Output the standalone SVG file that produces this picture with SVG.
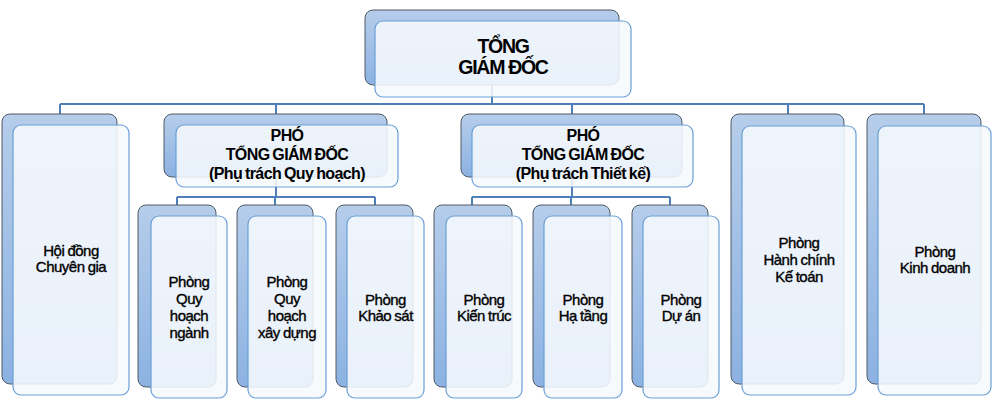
<svg xmlns="http://www.w3.org/2000/svg" width="993" height="405" viewBox="0 0 993 405">
<defs>
<linearGradient id="gBack" x1="0" y1="0" x2="0" y2="1">
<stop offset="0" stop-color="#b6cdea"/>
<stop offset="1" stop-color="#8cb2e2"/>
</linearGradient>
<style>
.back{fill:url(#gBack);stroke:#515b66;stroke-width:1}
.front{fill:#f6f9fd;fill-opacity:0.88;stroke:#6a9fd6;stroke-width:1.2}
.conn{fill:none;stroke:#4f7fb6;stroke-width:2}
text{font-family:"Liberation Sans",Arial,sans-serif;fill:#000;text-anchor:middle}
.t1{font-size:19.5px;font-weight:bold;letter-spacing:-1.3px}
.t2{font-size:16px;font-weight:bold;letter-spacing:-0.6px;word-spacing:-1px}
.t3{font-size:15px;letter-spacing:-0.5px;word-spacing:-0.5px;stroke:#000;stroke-width:0.35px}
</style>
</defs>
<rect width="993" height="405" fill="#ffffff"/>
<g id="connectors">
<path class="conn" d="M492 85V104M60 104H924M60 104V114M276 104V114M572 104V114M788 104V114M924 104V114"/>
<path class="conn" d="M276 177V197M177 197H375M177 197V205M275 197V205M375 197V205"/>
<path class="conn" d="M572 177V197M472 197H670M472 197V205M571 197V205M670 197V205"/>
</g>
<g id="node-tgd">
<rect class="back" x="365" y="10" width="254" height="75" rx="8"/>
<rect class="front" x="375" y="21" width="256" height="76" rx="8"/>
<text class="t1" x="503" y="53">TỔNG</text>
<text class="t1" x="503" y="74">GIÁM ĐỐC</text>
</g>
<g id="node-hoidong">
<rect class="back" x="2" y="114" width="115" height="270" rx="8"/>
<rect class="front" x="13" y="125" width="116" height="270" rx="8"/>
<text class="t3" x="71" y="256">Hội đồng</text>
<text class="t3" x="71" y="272">Chuyên gia</text>
</g>
<g id="node-pgd1">
<rect class="back" x="164" y="114" width="223" height="63" rx="8"/>
<rect class="front" x="176" y="125" width="222" height="62" rx="8"/>
<text class="t2" x="287" y="141">PHÓ</text>
<text class="t2" x="287" y="160">TỔNG GIÁM ĐỐC</text>
<text class="t2" x="287" y="179">(Phụ trách Quy hoạch)</text>
</g>
<g id="node-pgd2">
<rect class="back" x="461" y="114" width="221" height="63" rx="8"/>
<rect class="front" x="472" y="125" width="221" height="62" rx="8"/>
<text class="t2" x="583" y="141">PHÓ</text>
<text class="t2" x="583" y="160">TỔNG GIÁM ĐỐC</text>
<text class="t2" x="583" y="179">(Phụ trách Thiết kế)</text>
</g>
<g id="node-qhnganh">
<rect class="back" x="138" y="205" width="78" height="182" rx="8"/>
<rect class="front" x="151" y="216" width="76" height="182" rx="8"/>
<text class="t3" x="189" y="287">Phòng</text>
<text class="t3" x="189" y="304">Quy</text>
<text class="t3" x="189" y="321">hoạch</text>
<text class="t3" x="189" y="338">ngành</text>
</g>
<g id="node-qhxaydung">
<rect class="back" x="237" y="205" width="76" height="182" rx="8"/>
<rect class="front" x="248" y="216" width="78" height="182" rx="8"/>
<text class="t3" x="287" y="287">Phòng</text>
<text class="t3" x="287" y="304">Quy</text>
<text class="t3" x="287" y="321">hoạch</text>
<text class="t3" x="287" y="338">xây dựng</text>
</g>
<g id="node-khaosat">
<rect class="back" x="336" y="205" width="77" height="182" rx="8"/>
<rect class="front" x="347" y="216" width="77" height="182" rx="8"/>
<text class="t3" x="385.5" y="305">Phòng</text>
<text class="t3" x="385.5" y="321">Khảo sát</text>
</g>
<g id="node-kientruc">
<rect class="back" x="434" y="205" width="78" height="182" rx="8"/>
<rect class="front" x="446" y="216" width="76" height="182" rx="8"/>
<text class="t3" x="484" y="305">Phòng</text>
<text class="t3" x="484" y="321">Kiến trúc</text>
</g>
<g id="node-hatang">
<rect class="back" x="533" y="205" width="77" height="182" rx="8"/>
<rect class="front" x="544" y="216" width="78" height="182" rx="8"/>
<text class="t3" x="583" y="305">Phòng</text>
<text class="t3" x="583" y="321">Hạ tầng</text>
</g>
<g id="node-duan">
<rect class="back" x="632" y="205" width="76" height="182" rx="8"/>
<rect class="front" x="643" y="216" width="76" height="182" rx="8"/>
<text class="t3" x="681" y="305">Phòng</text>
<text class="t3" x="681" y="321">Dự án</text>
</g>
<g id="node-hanhchinh">
<rect class="back" x="731" y="114" width="113" height="270" rx="8"/>
<rect class="front" x="742" y="126" width="114" height="269" rx="8"/>
<text class="t3" x="799" y="248">Phòng</text>
<text class="t3" x="799" y="265">Hành chính</text>
<text class="t3" x="799" y="282">Kế toán</text>
</g>
<g id="node-kinhdoanh">
<rect class="back" x="867" y="114" width="114" height="270" rx="8"/>
<rect class="front" x="878" y="126" width="113" height="269" rx="8"/>
<text class="t3" x="935" y="257">Phòng</text>
<text class="t3" x="935" y="273">Kinh doanh</text>
</g>
</svg>
